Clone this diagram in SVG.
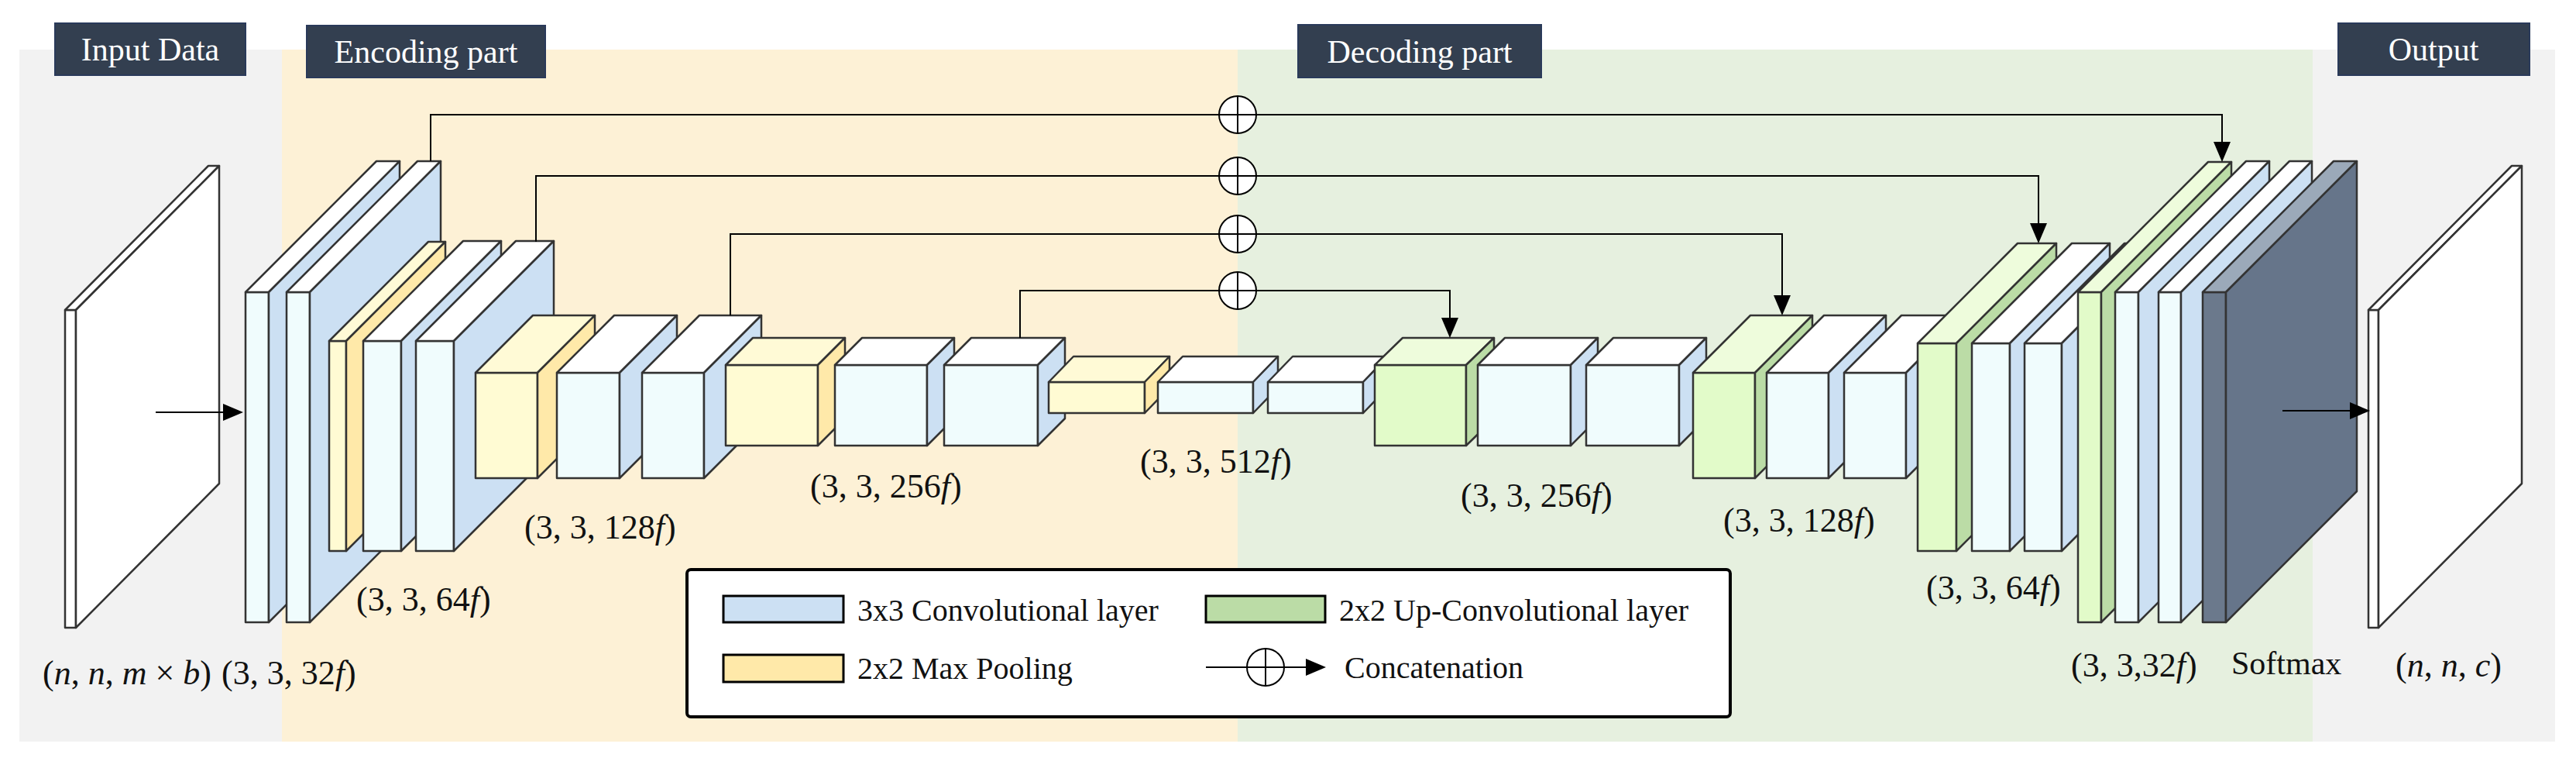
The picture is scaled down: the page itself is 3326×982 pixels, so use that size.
<svg xmlns="http://www.w3.org/2000/svg" width="3326" height="982" viewBox="0 0 3326 982">
<style>
.hdr{fill:#333f50;stroke:#2a3a5a;stroke-width:2}
.ht{fill:#fff;font-family:"Liberation Serif","DejaVu Serif",serif;font-size:42px;text-anchor:middle}
.lb{fill:#111;font-family:"Liberation Serif","DejaVu Serif",serif;font-size:44px}
.lt{fill:#111;font-family:"Liberation Serif","DejaVu Serif",serif;font-size:40px}
.it{font-style:italic}
.s{stroke:#333;stroke-width:2.5;stroke-linejoin:round}
.cf{fill:#f0fcfd}.ct{fill:#fff}.cs{fill:#cce0f3}
.pf{fill:#fffbd3}.pt{fill:#fffad6}.ps{fill:#ffe9a9}
.uf{fill:#e2fbc9}.ut{fill:#eefcdc}.us{fill:#bbdca6}
.sf{fill:#6b798c}.st{fill:#9ba9b9}.ss{fill:#66758a}
.ln{fill:none;stroke:#000;stroke-width:2}
.ci{fill:#fff;stroke:#000;stroke-width:2}
</style>
<defs>
<marker id="ah" markerUnits="userSpaceOnUse" markerWidth="26" markerHeight="22" refX="24" refY="11" orient="auto">
<path d="M0,0 L26,11 L0,22 Z" fill="#000"/>
</marker>
</defs>
<g id="backgrounds">
<rect x="25" y="64" width="3274" height="893" fill="#f2f2f2"/>
<rect x="364" y="64" width="1234" height="893" fill="#fdf1d6"/>
<rect x="1598" y="64" width="1388" height="893" fill="#e6f0df"/>
</g>
<g id="headers">
<rect class="hdr" x="71" y="30" width="246" height="67"/><text class="ht" x="194" y="78">Input Data</text>
<rect class="hdr" x="396" y="33" width="308" height="67"/><text class="ht" x="550" y="81">Encoding part</text>
<rect class="hdr" x="1676" y="32" width="314" height="68"/><text class="ht" x="1833" y="81">Decoding part</text>
<rect class="hdr" x="3019" y="30" width="247" height="67"/><text class="ht" x="3142" y="78">Output</text>
</g>
<g id="input-plane" class="s" fill="#fff">
<rect x="84" y="400" width="14" height="410"/>
<path d="M84,400 L269,214 L283,214 L98,400 Z"/>
<path d="M98,400 L283,214 L283,624 L98,810 Z"/>
</g>
<g id="b1" class="s"><rect class="cf" x="317" y="377" width="30" height="426"/><path class="ct" d="M317,377 L486,208 L516,208 L347,377 Z"/><path class="cs" d="M347,377 L516,208 L516,634 L347,803 Z"/></g>
<g id="b2" class="s"><rect class="cf" x="370" y="377" width="30" height="426"/><path class="ct" d="M370,377 L539,208 L569,208 L400,377 Z"/><path class="cs" d="M400,377 L569,208 L569,634 L400,803 Z"/></g>
<g id="b3" class="s"><rect class="pf" x="425" y="440" width="22" height="271"/><path class="pt" d="M425,440 L553,312 L575,312 L447,440 Z"/><path class="ps" d="M447,440 L575,312 L575,583 L447,711 Z"/></g>
<g id="b4" class="s"><rect class="cf" x="469" y="440" width="49" height="271"/><path class="ct" d="M469,440 L598,311 L647,311 L518,440 Z"/><path class="cs" d="M518,440 L647,311 L647,582 L518,711 Z"/></g>
<g id="b5" class="s"><rect class="cf" x="537" y="440" width="49" height="271"/><path class="ct" d="M537,440 L666,311 L715,311 L586,440 Z"/><path class="cs" d="M586,440 L715,311 L715,582 L586,711 Z"/></g>
<g id="b6" class="s"><rect class="pf" x="614" y="481" width="80" height="136"/><path class="pt" d="M614,481 L688,407 L768,407 L694,481 Z"/><path class="ps" d="M694,481 L768,407 L768,543 L694,617 Z"/></g>
<g id="b7" class="s"><rect class="cf" x="719" y="481" width="81" height="136"/><path class="ct" d="M719,481 L793,407 L874,407 L800,481 Z"/><path class="cs" d="M800,481 L874,407 L874,543 L800,617 Z"/></g>
<g id="b8" class="s"><rect class="cf" x="829" y="481" width="80" height="136"/><path class="ct" d="M829,481 L903,407 L983,407 L909,481 Z"/><path class="cs" d="M909,481 L983,407 L983,543 L909,617 Z"/></g>
<g id="b9" class="s"><rect class="pf" x="937" y="471" width="119" height="104"/><path class="pt" d="M937,471 L972,436 L1091,436 L1056,471 Z"/><path class="ps" d="M1056,471 L1091,436 L1091,540 L1056,575 Z"/></g>
<g id="b10" class="s"><rect class="cf" x="1078" y="471" width="119" height="104"/><path class="ct" d="M1078,471 L1113,436 L1232,436 L1197,471 Z"/><path class="cs" d="M1197,471 L1232,436 L1232,540 L1197,575 Z"/></g>
<g id="b11" class="s"><rect class="cf" x="1219" y="471" width="121" height="104"/><path class="ct" d="M1219,471 L1254,436 L1375,436 L1340,471 Z"/><path class="cs" d="M1340,471 L1375,436 L1375,540 L1340,575 Z"/></g>
<g id="b12" class="s"><rect class="pf" x="1354" y="493" width="124" height="40"/><path class="pt" d="M1354,493 L1386,460 L1510,460 L1478,493 Z"/><path class="ps" d="M1478,493 L1510,460 L1510,500 L1478,533 Z"/></g>
<g id="b13" class="s"><rect class="cf" x="1495" y="493" width="123" height="40"/><path class="ct" d="M1495,493 L1527,460 L1650,460 L1618,493 Z"/><path class="cs" d="M1618,493 L1650,460 L1650,500 L1618,533 Z"/></g>
<g id="b14" class="s"><rect class="cf" x="1637" y="493" width="123" height="40"/><path class="ct" d="M1637,493 L1669,460 L1792,460 L1760,493 Z"/><path class="cs" d="M1760,493 L1792,460 L1792,500 L1760,533 Z"/></g>
<g id="b15" class="s"><rect class="uf" x="1775" y="471" width="118" height="104"/><path class="ut" d="M1775,471 L1811,436 L1929,436 L1893,471 Z"/><path class="us" d="M1893,471 L1929,436 L1929,540 L1893,575 Z"/></g>
<g id="b16" class="s"><rect class="cf" x="1908" y="471" width="120" height="104"/><path class="ct" d="M1908,471 L1943,436 L2063,436 L2028,471 Z"/><path class="cs" d="M2028,471 L2063,436 L2063,540 L2028,575 Z"/></g>
<g id="b17" class="s"><rect class="cf" x="2048" y="471" width="120" height="104"/><path class="ct" d="M2048,471 L2083,436 L2203,436 L2168,471 Z"/><path class="cs" d="M2168,471 L2203,436 L2203,540 L2168,575 Z"/></g>
<g id="b18" class="s"><rect class="uf" x="2186" y="481" width="80" height="136"/><path class="ut" d="M2186,481 L2260,407 L2340,407 L2266,481 Z"/><path class="us" d="M2266,481 L2340,407 L2340,543 L2266,617 Z"/></g>
<g id="b19" class="s"><rect class="cf" x="2281" y="481" width="80" height="136"/><path class="ct" d="M2281,481 L2355,407 L2435,407 L2361,481 Z"/><path class="cs" d="M2361,481 L2435,407 L2435,543 L2361,617 Z"/></g>
<g id="b20" class="s"><rect class="cf" x="2381" y="481" width="80" height="136"/><path class="ct" d="M2381,481 L2455,407 L2535,407 L2461,481 Z"/><path class="cs" d="M2461,481 L2535,407 L2535,543 L2461,617 Z"/></g>
<g id="b21" class="s"><rect class="uf" x="2476" y="443" width="50" height="268"/><path class="ut" d="M2476,443 L2605,314 L2655,314 L2526,443 Z"/><path class="us" d="M2526,443 L2655,314 L2655,582 L2526,711 Z"/></g>
<g id="b22" class="s"><rect class="cf" x="2546" y="443" width="49" height="268"/><path class="ct" d="M2546,443 L2675,314 L2724,314 L2595,443 Z"/><path class="cs" d="M2595,443 L2724,314 L2724,582 L2595,711 Z"/></g>
<g id="b23" class="s"><rect class="cf" x="2614" y="443" width="48" height="268"/><path class="ct" d="M2614,443 L2743,314 L2791,314 L2662,443 Z"/><path class="cs" d="M2662,443 L2791,314 L2791,582 L2662,711 Z"/></g>
<g id="b24" class="s"><rect class="uf" x="2683" y="377" width="30" height="426"/><path class="ut" d="M2683,377 L2851,209 L2881,209 L2713,377 Z"/><path class="us" d="M2713,377 L2881,209 L2881,635 L2713,803 Z"/></g>
<g id="b25" class="s"><rect class="cf" x="2731" y="377" width="30" height="426"/><path class="ct" d="M2731,377 L2900,208 L2930,208 L2761,377 Z"/><path class="cs" d="M2761,377 L2930,208 L2930,634 L2761,803 Z"/></g>
<g id="b26" class="s"><rect class="cf" x="2787" y="377" width="29" height="426"/><path class="ct" d="M2787,377 L2956,208 L2985,208 L2816,377 Z"/><path class="cs" d="M2816,377 L2985,208 L2985,634 L2816,803 Z"/></g>
<g id="b27" class="s"><rect class="sf" x="2844" y="377" width="30" height="426"/><path class="st" d="M2844,377 L3013,208 L3043,208 L2874,377 Z"/><path class="ss" d="M2874,377 L3043,208 L3043,634 L2874,803 Z"/></g>
<g id="output-plane" class="s" fill="#fff">
<rect x="3058" y="400" width="13" height="410"/>
<path d="M3058,400 L3243,214 L3256,214 L3071,400 Z"/>
<path d="M3071,400 L3256,214 L3256,624 L3071,810 Z"/>
</g>
<g id="connectors">
<line class="ln" x1="201" y1="532" x2="312" y2="532" marker-end="url(#ah)"/>
<line class="ln" x1="2947" y1="530" x2="3058" y2="530" marker-end="url(#ah)"/>
<polyline class="ln" points="556,208 556,148 2869,148 2869,207" marker-end="url(#ah)"/>
<polyline class="ln" points="692,312 692,227 2632,227 2632,312" marker-end="url(#ah)"/>
<polyline class="ln" points="943,407 943,302 2301,302 2301,405" marker-end="url(#ah)"/>
<polyline class="ln" points="1317,436 1317,375 1872,375 1872,434" marker-end="url(#ah)"/>
<g class="ci">
<ellipse cx="1598" cy="148" rx="24" ry="24"/><path d="M1574,148 H1622 M1598,124 V172"/>
<ellipse cx="1598" cy="227" rx="24" ry="24"/><path d="M1574,227 H1622 M1598,203 V251"/>
<ellipse cx="1598" cy="302" rx="24" ry="24"/><path d="M1574,302 H1622 M1598,278 V326"/>
<ellipse cx="1598" cy="375" rx="24" ry="24"/><path d="M1574,375 H1622 M1598,351 V399"/>
</g>
</g>
<g id="labels" class="lb">
<text x="55" y="883">(<tspan class="it">n</tspan>, <tspan class="it">n</tspan>, <tspan class="it">m</tspan> × <tspan class="it">b</tspan>)</text>
<text x="286" y="883">(3, 3, 32<tspan class="it">f</tspan>)</text>
<text x="460" y="788">(3, 3, 64<tspan class="it">f</tspan>)</text>
<text x="677" y="695">(3, 3, 128<tspan class="it">f</tspan>)</text>
<text x="1046" y="642">(3, 3, 256<tspan class="it">f</tspan>)</text>
<text x="1472" y="610">(3, 3, 512<tspan class="it">f</tspan>)</text>
<text x="1886" y="654">(3, 3, 256<tspan class="it">f</tspan>)</text>
<text x="2225" y="686">(3, 3, 128<tspan class="it">f</tspan>)</text>
<text x="2487" y="773">(3, 3, 64<tspan class="it">f</tspan>)</text>
<text x="2674" y="873">(3, 3,32<tspan class="it">f</tspan>)</text>
<text x="2881" y="870" font-size="42">Softmax</text>
<text x="3093" y="873">(<tspan class="it">n</tspan>, <tspan class="it">n</tspan>, <tspan class="it">c</tspan>)</text>
</g>
<g id="legend">
<rect x="887" y="735" width="1347" height="190" rx="5" fill="#fff" stroke="#000" stroke-width="4"/>
<rect x="934" y="769" width="155" height="34" fill="#cce0f3" stroke="#000" stroke-width="3"/>
<text class="lt" x="1107" y="801">3x3 Convolutional layer</text>
<rect x="934" y="845" width="155" height="35" fill="#ffe9a9" stroke="#000" stroke-width="3"/>
<text class="lt" x="1107" y="876">2x2 Max Pooling</text>
<rect x="1557" y="769" width="154" height="34" fill="#bbdca6" stroke="#000" stroke-width="3"/>
<text class="lt" x="1729" y="801">2x2 Up-Convolutional layer</text>
<line class="ln" x1="1557" y1="861" x2="1710" y2="861" marker-end="url(#ah)"/>
<g class="ci"><ellipse cx="1634" cy="861" rx="24" ry="24"/><path d="M1610,861 H1658 M1634,837 V885"/></g>
<text class="lt" x="1736" y="875">Concatenation</text>
</g>
</svg>
